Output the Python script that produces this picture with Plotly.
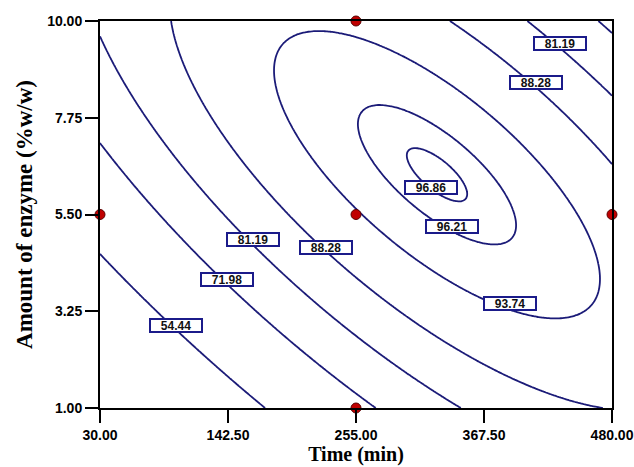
import numpy as np
import plotly.graph_objects as go

# ---- data ----
contour_levels = [54.44, 71.98, 81.19, 88.28, 93.74, 96.21, 96.86]

# points (Time, Enzyme, level)
trace_time = [30.0, 96.8, 173.3,
              31.8, 141.6, 269.1,
              30.0, 164.5, 344.6, 405.3, 434.3, 480.0,
              94.2, 229.5, 276.1, 328.8, 480.0, 337.6, 410.6, 480.0,
              183.8, 219.8, 255.9, 276.1, 390.4, 414.1, 466.8, 375.4, 469.4,
              254.1, 277.9, 393.0, 370.1, 276.1,
              298.1, 352.6, 344.6, 295.4, 320.0]
trace_enzyme = [4.49, 2.93, 1.00,
                7.12, 3.98, 1.00,
                9.60, 4.91, 1.00, 10.0, 9.49, 8.23,
                10.0, 4.74, 3.58, 2.65, 1.00, 10.0, 8.58, 6.65,
                8.86, 9.72, 5.51, 5.07, 3.44, 3.12, 4.05, 7.40, 4.91,
                7.70, 8.05, 5.53, 4.84, 6.30,
                7.07, 5.91, 5.77, 6.81, 6.95]
trace_level = ([54.44] * 3 + [71.98] * 3 + [81.19] * 6 + [88.28] * 8
               + [93.74] * 9 + [96.21] * 5 + [96.86] * 5)

design_time = [30, 255, 255, 255, 480]
design_enzyme = [5.5, 10, 5.5, 1, 5.5]

x_ticks = [30, 142.5, 255, 367.5, 480]
x_tick_labels = ["30.00", "142.50", "255.00", "367.50", "480.00"]
y_ticks = [1, 3.25, 5.5, 7.75, 10]
y_tick_labels = ["1.00", "3.25", "5.50", "7.75", "10.00"]

label_text = ["54.44", "71.98", "81.19", "88.28", "93.74", "96.21", "96.86", "81.19", "88.28"]
label_time = [96.8, 141.6, 164.5, 228.6, 390.4, 339.8, 321.3, 434.7, 412.8]
label_enzyme = [2.93, 3.98, 4.91, 4.74, 3.43, 5.22, 6.13, 9.47, 8.58]

# ---- quadratic response surface fitted to the traced contour points ----
def coded(t, e):
    return (np.asarray(t) - 255.0) / 225.0, (np.asarray(e) - 5.5) / 4.5

def design_matrix(a, b):
    return np.column_stack([np.ones_like(a), a, b, a * b, a * a, b * b])

A, B = coded(trace_time, trace_enzyme)
lv = np.asarray(trace_level)
w = np.where(lv > 96, 3.0, np.where(lv > 93, 2.0, 1.0))
M = design_matrix(A, B)
coef, *_ = np.linalg.lstsq(M * w[:, None], lv * w, rcond=None)

gx = np.linspace(30, 480, 301)
gy = np.linspace(1, 10, 301)
GX, GY = np.meshgrid(gx, gy)
ga, gb = coded(GX.ravel(), GY.ravel())
Z = (design_matrix(ga, gb) @ coef).reshape(GX.shape)

line_color = "#1b1b78"
fig = go.Figure()
for L in contour_levels:
    fig.add_trace(go.Contour(
        x=gx, y=gy, z=Z,
        autocontour=False,
        contours=dict(start=L, end=L, size=1, coloring="lines", showlabels=False),
        colorscale=[[0, line_color], [1, line_color]],
        line=dict(width=1.8),
        showscale=False, hoverinfo="skip",
    ))

fig.add_trace(go.Scatter(
    x=design_time, y=design_enzyme, mode="markers",
    marker=dict(size=10, color="#c00000", line=dict(color="#5a0000", width=1)),
    cliponaxis=False, showlegend=False,
))

for t, xv, yv in zip(label_text, label_time, label_enzyme):
    fig.add_annotation(
        x=xv, y=yv, text="<b>%s</b>" % t, showarrow=False,
        font=dict(family="Liberation Sans", size=12, color="#111111"),
        bgcolor="white", bordercolor="#1b1b8a", borderwidth=2,
        borderpad=0, width=50, height=11,
    )

axis_common = dict(
    showline=True, linecolor="black", linewidth=2, mirror=True,
    ticks="outside", ticklen=13, tickwidth=2, tickcolor="black",
    showgrid=False, zeroline=False, automargin=False,
    tickfont=dict(family="Liberation Sans", size=14, color="black"),
)

fig.update_layout(
    width=634, height=467,
    margin=dict(l=100, r=22, t=21, b=59),
    paper_bgcolor="white", plot_bgcolor="white",
    showlegend=False,
    xaxis=dict(range=[30, 480], tickvals=x_ticks, ticktext=["<b>%s</b>" % s for s in x_tick_labels],
               title=dict(text="<b>Time (min)</b>", standoff=4,
                          font=dict(family="Liberation Serif", size=20, color="black")),
               **axis_common),
    yaxis=dict(range=[1, 10], tickvals=y_ticks, ticktext=["<b>%s</b>" % s for s in y_tick_labels],
               title=dict(text="<b>Amount of enzyme (%w/w)</b>", standoff=8,
                          font=dict(family="Liberation Serif", size=23, color="black")),
               **axis_common),
)

fig.write_html(
    "out.html",
    config={"displayModeBar": False},
    post_script="document.body.style.margin='0';document.body.style.overflow='hidden';",
)
